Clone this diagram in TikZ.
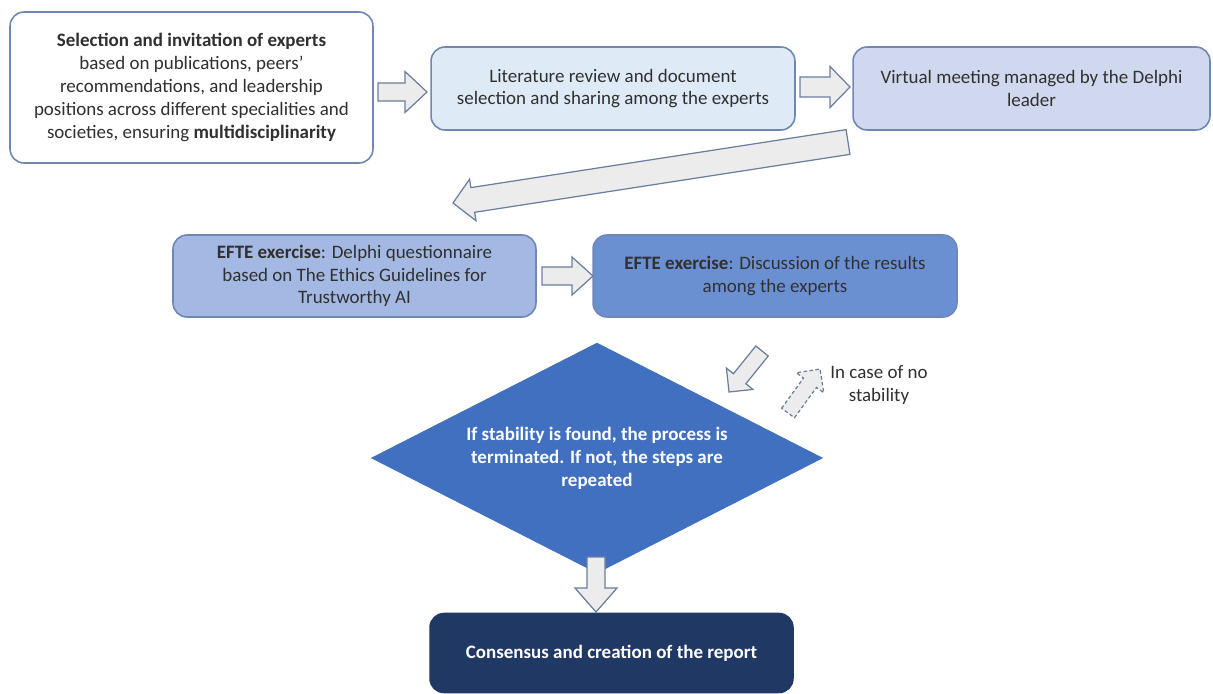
\documentclass[tikz,border=0pt]{standalone}
\usepackage{fontspec}
\setmainfont{Carlito}
\usetikzlibrary{calc,shapes.geometric}
\definecolor{boxline}{HTML}{7087B3}
\definecolor{txt}{HTML}{303030}
\definecolor{fillB}{HTML}{DEEBF7}
\definecolor{fillC}{HTML}{CFD8EE}
\definecolor{fillD}{HTML}{A3B8E2}
\definecolor{fillE}{HTML}{6B90D2}
\definecolor{diaF}{HTML}{4170C0}
\definecolor{navy}{HTML}{203864}
\definecolor{arrfill}{HTML}{ECECEC}
\definecolor{arrline}{HTML}{6A7E9E}
\tikzset{
  box/.style={draw=boxline, line width=0.9pt, rounded corners=0.28cm, align=center,
    font=\fontsize{10.8}{13}\selectfont, text=txt, inner sep=0pt},
  barrow/.style={draw=arrline, fill=arrfill, line width=0.7pt, line join=miter},
  dashedarrow/.style={dash pattern=on 2pt off 1.4pt},
}
\newcommand{\BlockArr}[6][]{%
  \coordinate (ba-base) at ($(#3)!#6!(#2)$);
  \path[barrow,#1] ($(#2)!#4!90:(#3)$) -- ($(ba-base)!#4!-90:(#2)$)
    -- ($(ba-base)!#5!-90:(#2)$) -- (#3) -- ($(ba-base)!#5!90:(#2)$)
    -- ($(ba-base)!#4!90:(#2)$) -- ($(#2)!#4!-90:(#3)$) -- cycle;}
\begin{document}
\begin{tikzpicture}[x=0.02cm, y=-0.02cm]
\useasboundingbox (0,0) rectangle (1213,693);

\node[box, fill=white, minimum width=7.26cm, minimum height=3.02cm] (n1) at (191.5,87.5)
  {\textbf{Selection and invitation of experts}\\based on publications, peers’\\recommendations, and leadership\\positions across different specialities and\\societies, ensuring \textbf{multidisciplinarity}};
\node[box, fill=fillB, minimum width=7.28cm, minimum height=1.66cm] (n2) at (613,88.5)
  {Literature review and document\\selection and sharing among the experts};
\node[box, fill=fillC, minimum width=7.14cm, minimum height=1.66cm] (n3) at (1031.5,88.5)
  {Virtual meeting managed by the Delphi\\leader};
\node[box, fill=fillD, minimum width=7.26cm, minimum height=1.64cm] (n4) at (354.5,276)
  {\textbf{EFTE exercise}: Delphi questionnaire\\based on The Ethics Guidelines for\\Trustworthy AI};
\node[box, fill=fillE, minimum width=7.28cm, minimum height=1.64cm] (n5) at (775,276)
  {\textbf{EFTE exercise}: Discussion of the results\\among the experts};
\node[diamond, fill=diaF, draw=diaF, aspect=1.96, minimum width=9.02cm, minimum height=4.6cm,
  inner sep=0pt, align=center, text=white, font=\fontsize{10.8}{13}\selectfont\bfseries] (d) at (597,458)
  {If stability is found, the process is\\terminated. If not, the steps are\\repeated};
\node[box, draw=navy, fill=navy, text=white, font=\fontsize{10.8}{13}\selectfont\bfseries,
  minimum width=7.26cm, minimum height=1.58cm] (n7) at (611.5,653)
  {Consensus and creation of the report};
\node[align=center, font=\fontsize{10.8}{13}\selectfont, text=txt, inner sep=0pt] (nc) at (879,385)
  {In case of no\\stability};

\coordinate (a1s) at (378,92);  \coordinate (a1e) at (427,92);
\coordinate (a2s) at (800,87);  \coordinate (a2e) at (850,87);
\coordinate (a3s) at (848,142); \coordinate (a3e) at (453,203);
\coordinate (a4s) at (542,276); \coordinate (a4e) at (593,276);
\coordinate (a5s) at (762,351); \coordinate (a5e) at (729,392);
\coordinate (a6s) at (788,413); \coordinate (a6e) at (820,369);
\coordinate (a7s) at (596,557); \coordinate (a7e) at (596,612);

\BlockArr{a1s}{a1e}{0.18cm}{0.41cm}{0.44cm}
\BlockArr{a2s}{a2e}{0.2cm}{0.41cm}{0.4cm}
\BlockArr{a3s}{a3e}{0.25cm}{0.42cm}{0.4cm}
\BlockArr{a4s}{a4e}{0.18cm}{0.38cm}{0.42cm}
\BlockArr{a5s}{a5e}{0.16cm}{0.34cm}{0.34cm}
\BlockArr[dashedarrow]{a6s}{a6e}{0.16cm}{0.34cm}{0.34cm}
\BlockArr{a7s}{a7e}{0.18cm}{0.42cm}{0.48cm}
\end{tikzpicture}
\end{document}
